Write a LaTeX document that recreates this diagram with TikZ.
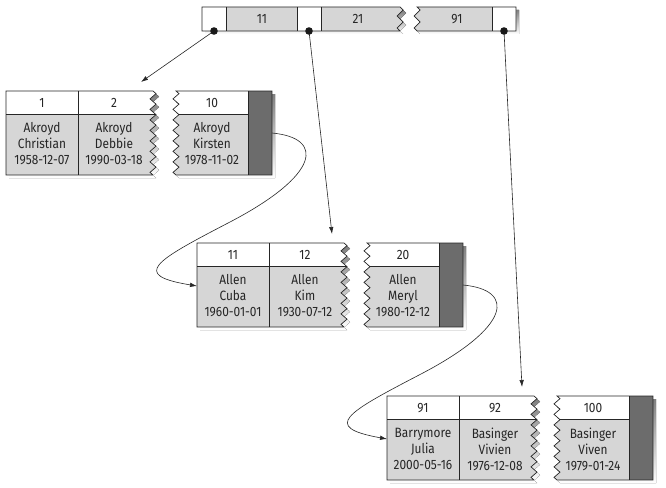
\documentclass[tikz,border=0pt]{standalone}
\usepackage{fontspec}
\setmainfont{Fira Sans}[FakeStretch=0.88]
\usetikzlibrary{arrows.meta,decorations.pathmorphing}

\definecolor{cellgray}{RGB}{214,214,214}
\definecolor{bargray}{RGB}{108,108,108}
\definecolor{shade}{RGB}{178,178,178}

%% one leaf page: name, origin, three keys, three rows
\newcommand{\leafpage}[8]{%
  \begin{scope}[shift={#2}]
    \fill[shade,shift={(3,3)},pageA];
    \fill[shade,shift={(3,3)},pageB];
    \begin{scope}
      \clip[pageA];
      \fill[white] (0,0) rectangle (155,23);
      \fill[cellgray] (0,23) rectangle (155,84);
      \draw[frame] (0,23) -- (155,23);
    \end{scope}
    \begin{scope}
      \clip[pageB];
      \fill[white] (160,0) rectangle (242,23);
      \fill[cellgray] (160,23) rectangle (242,84);
      \draw[frame] (160,23) -- (242,23);
    \end{scope}
    \fill[bargray] (242,0) rectangle (266,84);
    \draw[frame] (72,0) -- (72,84) (242,0) -- (242,84);
    \draw[frame,pageA];
    \draw[frame,pageB];
    \node[celltext] (#1k1) at (36,12) {#3};
    \node[celltext] (#1k2) at (108,12) {#4};
    \node[celltext] (#1k3) at (206,12) {#5};
    \node[celltext] (#1v1) at (36,53) {#6};
    \node[celltext] (#1v2) at (108,53) {#7};
    \node[celltext] (#1v3) at (206,53) {#8};
    \coordinate (#1top) at (135,-9);
    \coordinate (#1in) at (0,43);
    \coordinate (#1out) at (266,42);
  \end{scope}}

\begin{document}
\begin{tikzpicture}%
	[x=1pt,y=-1pt,
	frame/.style={draw=black!85,line width=0.7pt},
	link/.style={draw=black!85,line width=0.6pt,-{Latex[length=7pt,width=4.5pt]}},
	celltext/.style={font=\fontsize{13.5}{16}\selectfont,text=black!85,align=center,inner sep=0pt},
	pageA/.style={decoration={zigzag,segment length=10.5,amplitude=3},
		insert path={(0,0) -- (147,0) decorate{-- (147,84)} -- (0,84) -- cycle}},
	pageB/.style={decoration={zigzag,segment length=10.5,amplitude=3},
		insert path={(266,0) -- (170,0) decorate{-- (170,84)} -- (266,84) -- cycle}},
	rootA/.style={decoration={zigzag,segment length=12,amplitude=3},
		insert path={(202,7) -- (400,7) decorate{-- (400,31)} -- (202,31) -- cycle}},
	rootB/.style={decoration={zigzag,segment length=12,amplitude=3},
		insert path={(516,7) -- (417,7) decorate{-- (417,31)} -- (516,31) -- cycle}},
	dot/.style={fill=black!90}]
\useasboundingbox (0,0) rectangle (666,487);
%
%% Root page
%%
\fill[shade,shift={(3,3)},rootA];
\fill[shade,shift={(3,3)},rootB];
\fill[cellgray,rootA];
\fill[cellgray,rootB];
\fill[white] (202,7) rectangle (226,31) (297,7) rectangle (321,31) (492,7) rectangle (516,31);
\draw[frame] (226,7) -- (226,31) (297,7) -- (297,31) (321,7) -- (321,31) (492,7) -- (492,31);
\draw[frame,rootA];
\draw[frame,rootB];
\node[celltext] (r1) at (262,19) {11};
\node[celltext] (r2) at (358,19) {21};
\node[celltext] (r3) at (457,19) {91};
\coordinate (p1) at (214,31);
\coordinate (p2) at (309,31);
\coordinate (p3) at (504,31);
%%
%% Leaf pages
%%
\leafpage{la}{(6,91)}{1}{2}{10}{Akroyd\\Christian\\1958-12-07}{Akroyd\\Debbie\\1990-03-18}{Akroyd\\Kirsten\\1978-11-02}
\leafpage{lb}{(197,243)}{11}{12}{20}{Allen\\Cuba\\1960-01-01}{Allen\\Kim\\1930-07-12}{Allen\\Meryl\\1980-12-12}
\leafpage{lc}{(387,396)}{91}{92}{100}{Barrymore\\Julia\\2000-05-16}{Basinger\\Vivien\\1976-12-08}{Basinger\\Viven\\1979-01-24}
%%
%% Pointers
%%
\draw[link] (p1) -- (latop);
\draw[link] (p2) -- (lbtop);
\draw[link] (p3) -- (lctop);
\draw[link] (laout) .. controls (325,138) and (320,175) .. (230,222)
	.. controls (155,261) and (130,275) .. (lbin);
\draw[link] (lbout) .. controls (516,290) and (511,327) .. (421,374)
	.. controls (346,413) and (321,427) .. (lcin);
\fill[dot] (p1) circle (3.8);
\fill[dot] (p2) circle (3.8);
\fill[dot] (p3) circle (3.8);
%%
\end{tikzpicture}
\end{document}
